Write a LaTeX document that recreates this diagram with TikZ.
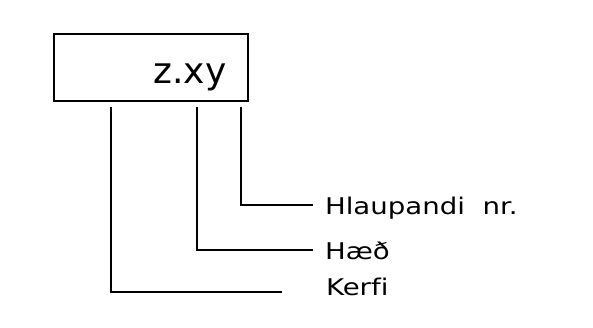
\documentclass[tikz,border=0pt]{standalone}
\usepackage{fontspec}
\setmainfont{DejaVu Sans}
\newfontfamily\labelfont[FakeStretch=1.2,Ligatures=NoCommon]{DejaVu Sans}
\usetikzlibrary{positioning}

\begin{document}
\begin{tikzpicture}[
    x=1pt, y=-1pt,
    line width=2pt,
    codebox/.style={draw, minimum width=194pt, minimum height=67pt, inner sep=0pt},
    fieldlabel/.style={anchor=base west, inner sep=0pt, font=\labelfont\fontsize{23}{25}\selectfont}
  ]
  \useasboundingbox (0,0) rectangle (593,328);
  % the code box
  \node (box) [codebox] at (151,67.5) {};
  \node (code) [anchor=base, inner sep=0pt, font=\fontsize{36}{40}\selectfont] at (190,84) {z.xy};
  % the labels
  \node (nr)    [fieldlabel] at (324,215) {Hlaupandi\ \ nr.};
  \node (haed)  [fieldlabel] at (324,259) {Hæð};
  \node (kerfi) [fieldlabel] at (325,295) {Kerfi};
  % the leaders
  \coordinate (nr top)    at (241,107);
  \coordinate (haed top)  at (197,107);
  \coordinate (kerfi top) at (111,107);
  \coordinate (nr end)    at (313,205);
  \coordinate (haed end)  at (313,250);
  \coordinate (kerfi end) at (282,292);
  \draw (nr top) |- (nr end);
  \draw (haed top) |- (haed end);
  \draw (kerfi top) |- (kerfi end);
\end{tikzpicture}
\end{document}
